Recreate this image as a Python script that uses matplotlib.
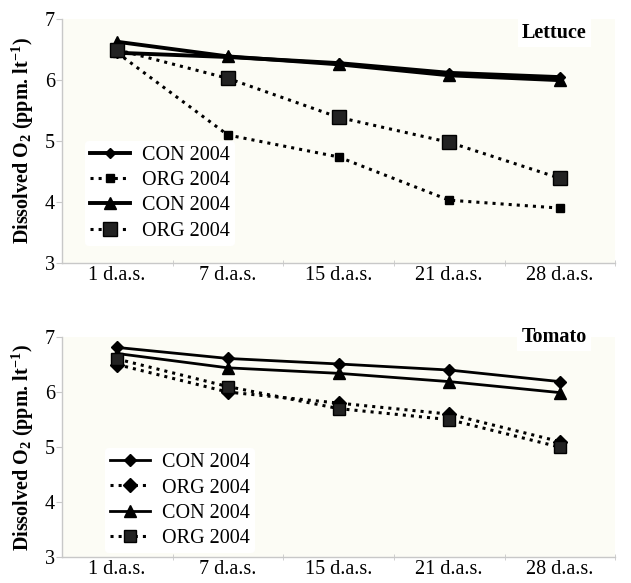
import matplotlib
matplotlib.use("Agg")
import matplotlib.pyplot as plt

categories = ["1 d.a.s.", "7 d.a.s.", "15 d.a.s.", "21 d.a.s.", "28 d.a.s."]
legend_labels = ["CON 2004", "ORG 2004", "CON 2004", "ORG 2004"]

lettuce_con_a = [6.45, 6.38, 6.28, 6.12, 6.05]
lettuce_org_a = [6.45, 5.10, 4.74, 4.03, 3.90]
lettuce_con_b = [6.63, 6.39, 6.26, 6.08, 6.00]
lettuce_org_b = [6.50, 6.03, 5.39, 4.98, 4.39]

tomato_con_a = [6.81, 6.61, 6.51, 6.40, 6.19]
tomato_org_a = [6.50, 6.00, 5.80, 5.60, 5.10]
tomato_con_b = [6.70, 6.44, 6.34, 6.19, 5.99]
tomato_org_b = [6.60, 6.10, 5.70, 5.50, 5.00]

plt.rcParams['font.family'] = ['Liberation Serif', 'DejaVu Serif']
plt.rcParams['mathtext.fontset'] = 'custom'
plt.rcParams['mathtext.rm'] = 'Liberation Serif'
plt.rcParams['mathtext.it'] = 'Liberation Serif:italic'
plt.rcParams['mathtext.bf'] = 'Liberation Serif:bold'

fig = plt.figure(figsize=(6.31, 5.83), dpi=100)
ax1 = fig.add_axes([0.098, 0.549, 0.877, 0.418])
ax2 = fig.add_axes([0.098, 0.044, 0.877, 0.378])

x = list(range(len(categories)))
bg = '#fcfcf5'
spine_c = '#c8c8c8'
FS = 14.5

def style(ax, title, title_y):
    ax.set_facecolor(bg)
    ax.set_xlim(-0.5, 4.5)
    ax.set_ylim(3, 7)
    ax.set_yticks([3, 4, 5, 6, 7])
    ax.set_xticks(x)
    ax.set_xticklabels(categories, fontsize=FS)
    ax.set_xticks([0.5, 1.5, 2.5, 3.5, 4.5], minor=True)
    ax.tick_params(axis='x', which='major', length=0, pad=2)
    ax.tick_params(axis='x', which='minor', length=5, color=spine_c, direction='inout')
    ax.tick_params(axis='y', labelsize=FS, length=4, color=spine_c, pad=1)
    for s in ['top', 'right']:
        ax.spines[s].set_visible(False)
    for s in ['left', 'bottom']:
        ax.spines[s].set_color(spine_c)
        ax.spines[s].set_linewidth(1.0)
    ax.set_ylabel(r'Dissolved O$_\mathbf{2}$ (ppm. lt$^\mathbf{-1}$)',
                  fontsize=FS, fontweight='bold', labelpad=6)
    ax.text(3.95, title_y, title, fontsize=FS, fontweight='bold', ha='center', va='center',
            bbox=dict(facecolor='white', edgecolor='none', pad=3))

def make_legend(ax, anchor):
    leg = ax.legend(loc='upper left', bbox_to_anchor=anchor, fontsize=FS, frameon=True,
                    handlelength=2.0, labelspacing=0.3, borderpad=0.25, handletextpad=0.6,
                    borderaxespad=0)
    leg.get_frame().set_facecolor('white')
    leg.get_frame().set_edgecolor('none')
    leg.get_frame().set_alpha(1)
    return leg

# Lettuce
ax1.plot(x, lettuce_con_a, color='black', lw=2.8, marker='D', ms=5, label=legend_labels[0])
ax1.plot(x, lettuce_org_a, color='black', lw=2.2, ls=':', marker='s', ms=6, label=legend_labels[1])
ax1.plot(x, lettuce_con_b, color='black', lw=2.8, marker='^', ms=8, label=legend_labels[2])
ax1.plot(x, lettuce_org_b, color='black', lw=2.2, ls=':', marker='s', ms=9.5, mfc='#222222', label=legend_labels[3])
style(ax1, 'Lettuce', 6.78)
make_legend(ax1, (0.042, 0.50))

# Tomato
ax2.plot(x, tomato_con_a, color='black', lw=2.0, marker='D', ms=6, label=legend_labels[0])
ax2.plot(x, tomato_org_a, color='black', lw=2.2, ls=':', marker='D', ms=7, label=legend_labels[1])
ax2.plot(x, tomato_con_b, color='black', lw=2.0, marker='^', ms=8, label=legend_labels[2])
ax2.plot(x, tomato_org_b, color='black', lw=2.2, ls=':', marker='s', ms=8, mfc='#222222', label=legend_labels[3])
style(ax2, 'Tomato', 7.0)
make_legend(ax2, (0.078, 0.495))

fig.savefig('out.png', dpi=100, facecolor='white')
